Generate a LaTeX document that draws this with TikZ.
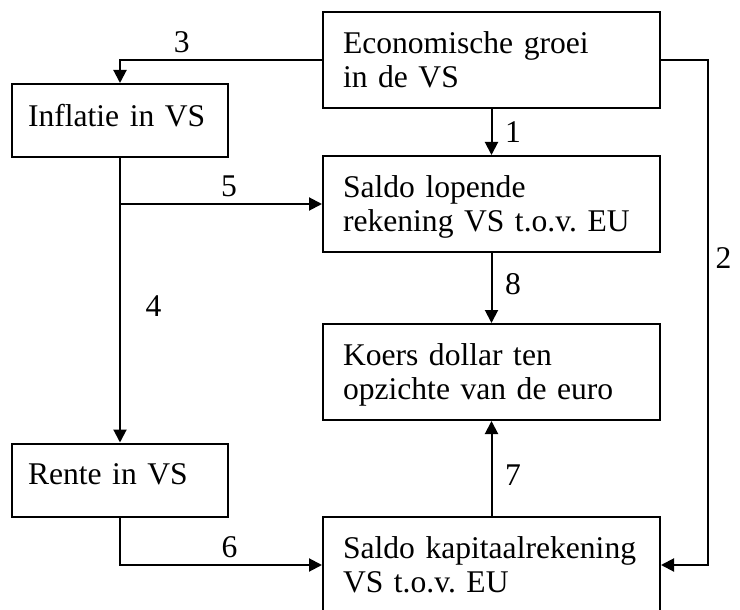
\documentclass[tikz,border=0pt]{standalone}
\usepackage{fontspec}
\setmainfont{Liberation Serif}
\usetikzlibrary{arrows.meta}
\frenchspacing

\begin{document}
\begin{tikzpicture}[x=0.5pt,y=-0.5pt,
        >={Triangle[length=6.5pt,width=6.5pt]},
        font=\fontsize{15.8}{17}\selectfont,
        line width=1pt,
        box/.style={draw,rectangle,inner xsep=10pt,inner ysep=0pt,align=left},
        bigbox/.style={box,text width=148.5pt,minimum height=48pt,text depth=17pt},
        smallbox/.style={box,inner xsep=8pt,text width=92pt,minimum height=36.5pt,text depth=5.5pt}]
    \useasboundingbox (0,0) rectangle (740,610);

    % the six boxes
    \node[bigbox] (econ) at (491.5,60) {Economische groei\\in de VS};
    \node[smallbox] (inflatie) at (120,120.5) {Inflatie in VS};
    \node[bigbox] (lopend) at (491.5,204) {Saldo lopende\\rekening VS t.o.v. EU};
    \node[bigbox] (koers) at (491.5,372) {Koers dollar ten\\opzichte van de euro};
    \node[smallbox] (rente) at (120,480) {Rente in VS};
    \node[bigbox] (kapitaal) at (491.5,565) {Saldo kapitaalrekening\\VS t.o.v. EU};

    \coordinate (split) at (inflatie.south |- lopend.west);
    \coordinate (rechts) at (708,0);

    % numbered effects
    \draw[->] (econ) -- (lopend) node[midway,right=3pt] {1};
    \draw[->] (econ.east) -- (econ.east -| rechts) |- (kapitaal.east) node[pos=0.196,right=0pt] {2};
    \draw[->] (econ.west) -| (inflatie.north) node[pos=0.347,above] {3};
    \draw[->] (inflatie) -- (rente) node[pos=0.52,right=9pt] {4};
    \draw[->] (split) -- (lopend) node[pos=0.54,above] {5};
    \draw[->] (rente) |- (kapitaal) node[pos=0.771,above] {6};
    \draw[->] (kapitaal) -- (koers) node[pos=0.43,right=3pt] {7};
    \draw[->] (lopend) -- (koers) node[pos=0.45,right=3pt] {8};
\end{tikzpicture}
\end{document}
